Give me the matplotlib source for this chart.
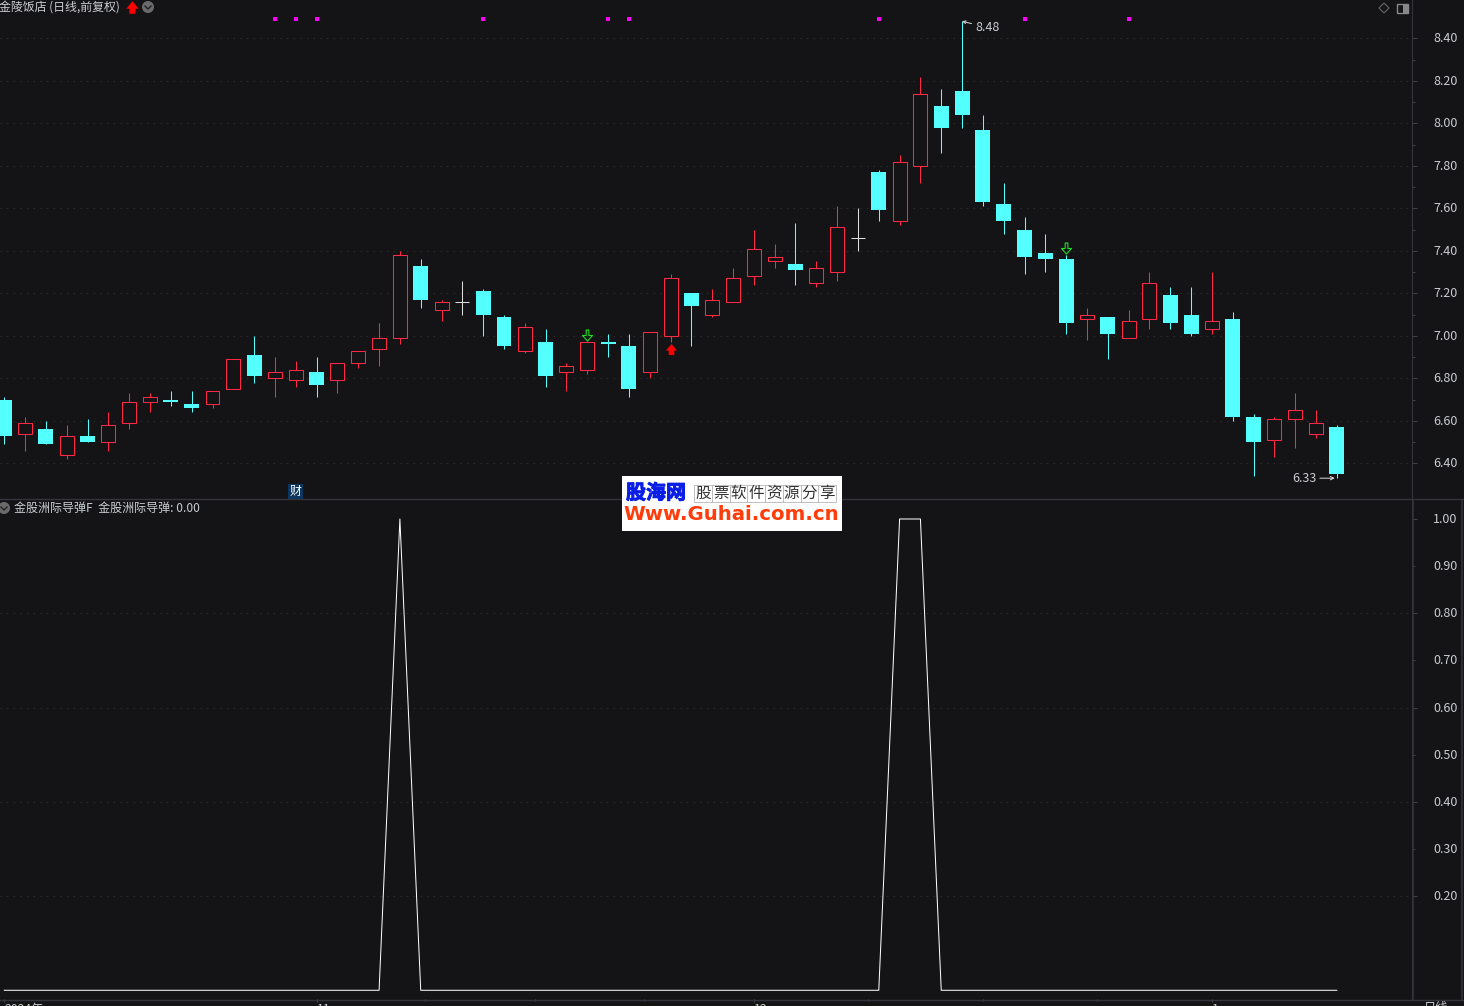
import matplotlib
matplotlib.use('Agg')
import matplotlib.pyplot as plt
import matplotlib.patheffects as pe
from matplotlib.path import Path
from matplotlib.patches import Rectangle, Circle, Polygon
from matplotlib.transforms import ScaledTranslation

plt.rcParams['font.family'] = ['Noto Sans CJK SC', 'DejaVu Sans']

# daily bars
opens = [6.70,6.54,6.56,6.44,6.53,6.50,6.59,6.69,6.70,6.68,6.68,6.75,6.91,6.80,6.79,6.83,6.79,
         6.87,6.94,6.99,7.33,7.12,7.16,7.21,7.09,6.93,6.97,6.83,6.84,6.97,6.95,6.83,7.00,7.20,
         7.10,7.16,7.28,7.35,7.34,7.25,7.30,7.46,7.77,7.54,7.80,8.08,8.15,7.97,7.62,7.50,7.39,
         7.36,7.08,7.09,6.99,7.08,7.19,7.10,7.03,7.08,6.62,6.51,6.61,6.54,6.57]
highs = [6.71,6.62,6.60,6.58,6.61,6.64,6.73,6.73,6.74,6.74,6.74,6.89,7.00,6.90,6.88,6.90,6.87,
         6.93,7.06,7.40,7.36,7.17,7.26,7.22,7.10,7.06,7.03,6.87,6.97,7.01,7.01,7.02,7.29,7.20,
         7.22,7.32,7.50,7.43,7.53,7.35,7.61,7.60,7.78,7.85,8.22,8.16,8.48,8.04,7.72,7.56,7.48,
         7.38,7.13,7.09,7.12,7.30,7.23,7.23,7.30,7.11,6.63,6.62,6.73,6.65,6.58]
lows = [6.49,6.46,6.49,6.42,6.50,6.46,6.56,6.64,6.67,6.64,6.66,6.75,6.78,6.71,6.76,6.71,6.73,
        6.85,6.86,6.96,7.13,7.07,7.10,7.00,6.94,6.92,6.76,6.74,6.82,6.90,6.71,6.80,6.97,6.95,
        7.09,7.16,7.24,7.32,7.24,7.23,7.26,7.40,7.54,7.52,7.72,7.86,7.98,7.61,7.48,7.29,7.30,
        7.01,6.98,6.89,6.99,7.03,7.03,7.00,7.01,6.60,6.34,6.43,6.47,6.52,6.33]
closes = [6.53,6.59,6.49,6.53,6.50,6.58,6.69,6.71,6.69,6.66,6.74,6.89,6.81,6.83,6.84,6.77,6.87,
          6.93,6.99,7.38,7.17,7.16,7.16,7.10,6.95,7.04,6.81,6.86,6.97,6.96,6.75,7.02,7.27,7.14,
          7.17,7.27,7.41,7.37,7.31,7.32,7.51,7.46,7.59,7.82,8.14,7.98,8.04,7.63,7.54,7.37,7.36,
          7.06,7.10,7.01,7.07,7.25,7.06,7.01,7.07,6.62,6.50,6.61,6.65,6.59,6.35]

# indicator: 1 on three of the days, 0 otherwise
signal_days = [19, 43, 44]
signal = [1.0 if i in signal_days else 0.0 for i in range(len(closes))]

dot_days = [13, 14, 15, 23, 29, 30, 42, 49, 54]
dot_price = 8.49
sell_days = [28, 51]
sell_prices = [7.006, 7.415]
buy_days = [32]
buy_prices = [6.936]

price_ticks = [6.40,6.60,6.80,7.00,7.20,7.40,7.60,7.80,8.00,8.20,8.40]
price_minor = [6.50,6.70,6.90,7.10,7.30,7.50,7.70,7.90,8.10,8.30]
sig_ticks = [0.20,0.40,0.60,0.80,1.00]
sig_minor = [0.30,0.50,0.70,0.90]
date_ticks = [0, 15, 36, 58]
date_labels = ['2024年', '11', '12', '1']
date_minor = [20.2, 25.5, 30.7, 41.5, 47, 52.5]

BG = '#141416'
RED = '#ff2846'
CYAN = '#54ffff'
GRID = '#333336'
EDGE = '#33343c'
TXT = '#c9ccd0'
W, H = 1464, 1006

fig = plt.figure(figsize=(W/100, H/100), dpi=100, facecolor=BG)

def box(x0, y0, x1, y1):
    return [x0/W, 1-y1/H, (x1-x0)/W, (y1-y0)/H]

ax = fig.add_axes(box(0, 0, 1412, 499), facecolor=BG)
ax2 = fig.add_axes(box(0, 500, 1412, 999), facecolor=BG)

xlim = (-0.2065, 67.61)
ax.set_xlim(xlim)
ax.set_ylim(6.232, 8.580)
ax2.set_xlim(xlim)
ax2.set_ylim(-0.0185, 1.0403)

ax.set_yticks(price_ticks)
ax.set_yticklabels(['%.2f' % v for v in price_ticks])
ax.set_yticks(price_minor, minor=True)
ax.set_xticks([])

ax2.set_yticks(sig_ticks)
ax2.set_yticklabels(['%.2f' % v for v in sig_ticks])
ax2.set_yticks(sig_minor, minor=True)
ax2.set_yticklabels(['%.2f' % v for v in sig_minor], minor=True)

for a in (ax, ax2):
    for s in ('top', 'left', 'bottom'):
        a.spines[s].set_visible(False)
    a.spines['right'].set_color(EDGE)
    a.yaxis.tick_right()
    a.tick_params(axis='y', which='major', length=3.6, width=0.7, color='#44454c',
                  labelcolor=TXT, labelsize=9.0, pad=11.5)
    a.tick_params(axis='y', which='minor', length=1.8, width=0.7, color='#44454c',
                  labelcolor=TXT, labelsize=9.0, pad=13.3, labelright=True, labelleft=False)
    a.grid(True, axis='y', which='major', color=GRID, linewidth=0.8, linestyle=(0, (1, 5)))
    a.set_axisbelow(True)
    for lbl in a.get_yticklabels(which='both'):
        lbl.set_transform(lbl.get_transform() + ScaledTranslation(0, 1/100, fig.dpi_scale_trans))

# the 1.00 level has a tick but no dotted line
ax2.yaxis.get_major_ticks()[-1].gridline.set_visible(False)

ax2.set_xticks(date_ticks)
ax2.set_xticklabels(date_labels, ha='left', fontsize=8.8, color=TXT)
ax2.set_xticks(date_minor, minor=True)
ax2.tick_params(axis='x', which='major', length=2.5, width=0.7, color='#55565c', pad=0.2)
ax2.tick_params(axis='x', which='minor', length=1.5, width=0.7, color='#55565c')

# candles
for i in range(len(closes)):
    o, h, l, c = opens[i], highs[i], lows[i], closes[i]
    if c > o:
        ax.vlines(i, l, h, color=RED, linewidth=0.75, zorder=2)
        ax.bar(i, c-o, bottom=o, width=0.67, facecolor=BG, edgecolor=RED, linewidth=0.75, zorder=3)
    elif c < o:
        ax.vlines(i, l, h, color=CYAN, linewidth=0.75, zorder=2)
        ax.bar(i, o-c, bottom=c, width=0.72, facecolor=CYAN, edgecolor='none', zorder=3)
    else:
        ax.vlines(i, l, h, color='#dddddd', linewidth=0.75, zorder=2)
        ax.hlines(o, i-0.34, i+0.34, color='#dddddd', linewidth=0.75, zorder=3)

ax.plot(dot_days, [dot_price]*len(dot_days), linestyle='none', marker='s', markersize=2.4,
        color='#ff00ff', markeredgewidth=0)

down_arrow = Path([(-1.2, 5), (1.2, 5), (1.2, 0), (4.5, 0), (0, -5), (-4.5, 0), (-1.2, 0), (-1.2, 5)])
up_arrow = Path([(-2.5, -5), (2.5, -5), (2.5, -1), (5, -1), (0, 5), (-5, -1), (-2.5, -1), (-2.5, -5)])
ax.plot(sell_days, sell_prices, linestyle='none', marker=down_arrow, markersize=8,
        markerfacecolor='none', markeredgecolor='#1fe01f', markeredgewidth=0.8, zorder=4)
ax.plot(buy_days, buy_prices, linestyle='none', marker=up_arrow, markersize=8,
        color='#ff0000', markeredgewidth=0, zorder=4)

# high / low labels
ax.annotate('8.48', xy=(46, 8.48), xytext=(46.65, 8.45), color=TXT, fontsize=9.0, va='center',
            arrowprops=dict(arrowstyle='->', color='#dddddd', linewidth=0.7, shrinkA=1, shrinkB=0,
                            mutation_scale=5))
ax.annotate('6.33', xy=(63.9, 6.33), xytext=(63.05, 6.33), color=TXT, fontsize=9.0, va='center', ha='right',
            arrowprops=dict(arrowstyle='->', color='#dddddd', linewidth=0.7, shrinkA=0, shrinkB=0,
                            mutation_scale=6))

ax2.plot(range(len(signal)), signal, color='white', linewidth=0.72, zorder=3)

# overlay in pixels for the title bar, icons and the watermark
ov = fig.add_axes([0, 0, 1, 1], zorder=10)
ov.set_xlim(0, W)
ov.set_ylim(H, 0)
ov.axis('off')

ov.plot([0, W], [499.4, 499.4], color=EDGE, linewidth=1)
ov.plot([0, W], [999.5, 999.5], color=EDGE, linewidth=1)
ov.plot([1412, 1412], [0, 499], color=EDGE, linewidth=0.8)
ov.plot([1413, 1413], [500, 999], color=EDGE, linewidth=1.1)
ov.plot([1462, 1462], [500, 999], color=EDGE, linewidth=1.1)

ov.text(-1, 7.5, '金陵饭店 (日线,前复权)', color=TXT, fontsize=8.6, va='center')
ov.plot([132], [7], linestyle='none', marker=up_arrow, markersize=9, color='#ff0000', markeredgewidth=0)

def chevron(x, y):
    ov.add_patch(Circle((x, y), 6, facecolor='#6a6a6a', edgecolor='none'))
    ov.plot([x-3, x, x+3], [y-1, y+2, y-1], color='#222222', linewidth=1)

chevron(148, 7)
chevron(4, 508)
ov.text(14, 508, '金股洲际导弹F  金股洲际导弹: 0.00', color=TXT, fontsize=8.65, va='center')
ov.text(295.5, 491.5, '财', color='white', fontsize=8.6, va='center', ha='center',
        bbox=dict(facecolor='#0c3560', edgecolor='none', pad=1))

ov.add_patch(Polygon([(1384, 3), (1389, 8), (1384, 13), (1379, 8)], closed=True, fill=False,
                     edgecolor='#666666', linewidth=0.8))
ov.add_patch(Rectangle((1397, 3.5), 10.5, 9.5, facecolor='none', edgecolor='#888888', linewidth=1))
ov.add_patch(Rectangle((1402.5, 4), 5, 8.5, facecolor='#888888', edgecolor='none'))

ov.text(1436, 1001, '日线', color=TXT, fontsize=8.8, va='top', ha='center')

# watermark
ov.add_patch(Rectangle((622, 476), 220, 55, facecolor='white', edgecolor='none', zorder=5))
ov.text(656, 492.5, '股海网', color='#0a1ee6', fontsize=14.4, fontweight='bold', ha='center', va='center',
        zorder=6, path_effects=[pe.withStroke(linewidth=0.7, foreground='#0a1ee6')])
share = '股票软件资源分享'
for k in range(len(share)):
    x0 = 694 + k*17.75
    ov.add_patch(Rectangle((x0, 485), 17.75, 17, facecolor='white', edgecolor='#b5b5b5', linewidth=0.6, zorder=5))
    ov.text(x0+8.9, 493.5, share[k], color='#333333', fontsize=11.2, ha='center', va='center', zorder=6)
ov.text(731.5, 515, 'Www.Guhai.com.cn', color='#ff3c0a', fontsize=14.2, fontweight='bold',
        family='DejaVu Sans', ha='center', va='center', zorder=6)

fig.savefig('out.png', dpi=100, facecolor=BG)
